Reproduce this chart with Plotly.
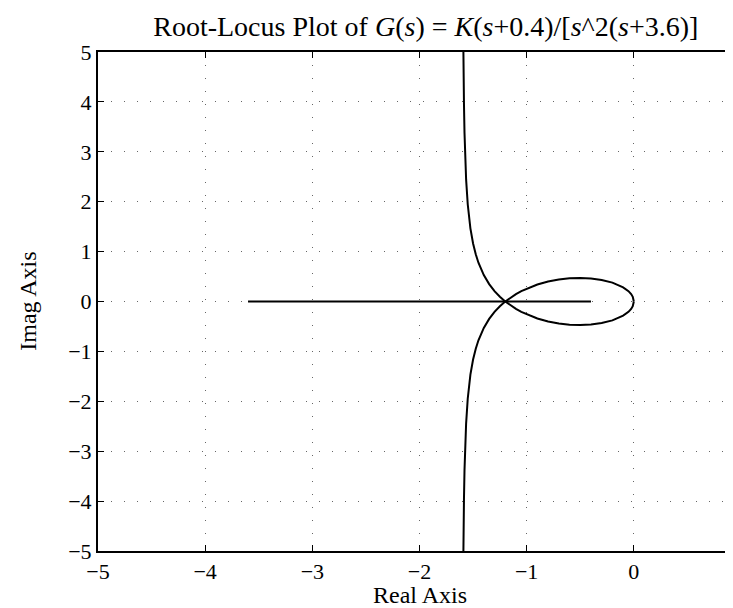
import plotly.graph_objects as go

# root locus branches (real part, imaginary part)
real_axis_re = [-3.6, -1.2, -0.4]
real_axis_im = [0, 0, 0]

loop_re = [0, -0.005, -0.01, -0.025, -0.05, -0.1, -0.15, -0.2, -0.3, -0.4, -0.5,
           -0.6, -0.7, -0.8, -0.9, -1.0, -1.05, -1.1, -1.15, -1.2]
loop_im = [0, 0.067, 0.094, 0.148, 0.207, 0.284, 0.338, 0.378, 0.432, 0.462, 0.472,
           0.465, 0.441, 0.400, 0.340, 0.258, 0.207, 0.148, 0.080, 0]

asym_re = [-1.2, -1.225, -1.25, -1.3, -1.35, -1.4, -1.45, -1.475, -1.5, -1.525,
           -1.55, -1.565, -1.575, -1.58, -1.585, -1.59, -1.5905]
asym_im = [0, 0.045, 0.095, 0.208, 0.349, 0.529, 0.777, 0.945, 1.162, 1.466,
           1.949, 2.441, 2.977, 3.378, 3.958, 4.918, 5.05]

x_ticks = [-5, -4, -3, -2, -1, 0, 1]
y_ticks = [-5, -4, -3, -2, -1, 0, 1, 2, 3, 4, 5]

line = dict(color="black", width=2)
fig = go.Figure()
fig.add_trace(go.Scatter(x=real_axis_re, y=real_axis_im, mode="lines", line=line))
fig.add_trace(go.Scatter(x=loop_re, y=loop_im, mode="lines", line=line))
fig.add_trace(go.Scatter(x=loop_re, y=[-v for v in loop_im], mode="lines", line=line))
fig.add_trace(go.Scatter(x=asym_re, y=asym_im, mode="lines", line=line))
fig.add_trace(go.Scatter(x=asym_re, y=[-v for v in asym_im], mode="lines", line=line))

axis_style = dict(
    showline=True, linecolor="black", linewidth=2, mirror="ticks",
    ticks="inside", ticklen=6, tickcolor="black", tickwidth=1,
    showgrid=True, gridcolor="#666", gridwidth=1, griddash="1px,12px",
    zeroline=False, automargin=False, ticklabeloverflow="allow",
    tickfont=dict(family="Liberation Serif", size=22, color="black"),
)

serif = dict(family="Liberation Serif", size=24, color="black")

fig.update_layout(
    width=733, height=608,
    margin=dict(l=90, r=0, t=44, b=65),
    paper_bgcolor="white", plot_bgcolor="white",
    showlegend=False,
    font=serif,
    title=dict(
        text="Root-Locus Plot of <i>G</i>(<i>s</i>) = <i>K</i>(<i>s</i>+0.4)/[<i>s</i>^2(<i>s</i>+3.6)]",
        x=0.57, xanchor="center", y=0.97, yanchor="middle",
        font=dict(family="Liberation Serif", size=28, color="black"),
    ),
    xaxis=dict(axis_style, range=[-5, 1], tickvals=x_ticks),
    yaxis=dict(axis_style, range=[-5, 5], tickvals=y_ticks),
    annotations=[
        dict(text="Real Axis", xref="paper", yref="paper", x=0.5, y=-0.088,
             xanchor="center", yanchor="middle", showarrow=False, font=serif),
        dict(text="Imag Axis", xref="paper", yref="paper", x=-0.11, y=0.5,
             xanchor="center", yanchor="middle", textangle=-90,
             showarrow=False, font=serif),
    ],
)

fig.write_html("out.html")
